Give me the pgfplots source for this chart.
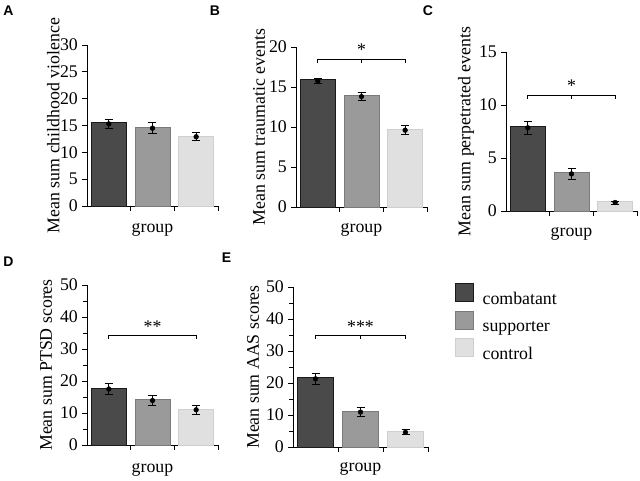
\documentclass[border=0pt]{standalone}
\usepackage{pgfplots}
\pgfplotsset{compat=1.18}
\usepackage{fontspec}
\setmainfont{Liberation Serif}
\newfontfamily\panelfont{Liberation Sans}
\newcommand\fs{\fontsize{17.8bp}{21bp}\selectfont}
\definecolor{cA}{HTML}{4A4A4A}\definecolor{cAd}{HTML}{1A1A1A}
\definecolor{cB}{HTML}{9A9A9A}\definecolor{cBd}{HTML}{7A7A7A}
\definecolor{cC}{HTML}{E0E0E0}\definecolor{cCd}{HTML}{CFCFCF}
\pgfplotsset{
  panel/.style={
    scale only axis, width=131bp, height=160bp,
    axis x line*=bottom, axis y line*=left,
    xmin=-0.5, xmax=2.5, ymin=0,
    xtick={0.5,1.5,2.5}, xticklabels={,,},
    tick align=outside, major tick length=5bp, minor tick length=4bp,
    every tick/.style={black, line width=0.7bp},
    axis line style={line width=0.8bp, black},
    clip=false,
    /pgf/number format/assume math mode=true,
    tick label style={font=\fs},
    yticklabel style={inner sep=1bp, xshift=-3bp},
    label style={font=\fs},
    xlabel={group},
  },
  xl/.style={xlabel style={at={(axis description cs:0.5,0)}, anchor=north, inner sep=0pt, yshift=-#1}},
  bA/.style={ybar, bar width=0.8, bar shift=0pt, fill=cA, draw=cAd, line width=0.8bp},
  bB/.style={ybar, bar width=0.8, bar shift=0pt, fill=cB, draw=cBd, line width=0.8bp},
  bC/.style={ybar, bar width=0.8, bar shift=0pt, fill=cC, draw=cCd, line width=0.8bp},
  eb/.style={black, only marks, mark=*, mark size=2.4bp,
    error bars/.cd, y dir=both, y explicit,
    error bar style={line width=0.8bp, black},
    error mark options={rotate=90, black, line width=0.8bp, mark size=4bp}},
  sq/.style={legend image code/.code={\draw[##1, line width=0.6bp] (0bp,-3bp) rectangle (18bp,15bp);}},
}
\begin{document}
\begin{tikzpicture}
\useasboundingbox (0,0) rectangle (640bp,481bp);
% Panel letters
\node[font=\panelfont\bfseries\fontsize{14bp}{16bp}\selectfont] at (8.5bp,470bp) {A};
\node[font=\panelfont\bfseries\fontsize{14bp}{16bp}\selectfont] at (215bp,470bp) {B};
\node[font=\panelfont\bfseries\fontsize{14bp}{16bp}\selectfont] at (428bp,470bp) {C};
\node[font=\panelfont\bfseries\fontsize{14bp}{16bp}\selectfont] at (8.5bp,219.5bp) {D};
\node[font=\panelfont\bfseries\fontsize{14bp}{16bp}\selectfont] at (226.5bp,223bp) {E};

% A
\begin{axis}[panel, xl=17bp, at={(87bp,275bp)}, anchor=south west, height=161bp,
  ymax=30, ytick={0,5,...,30},
  ylabel={Mean sum childhood violence},
  ylabel style={at={(axis description cs:-0.258,0.5)}, anchor=center}]
\addplot[bA] coordinates {(0,15.5)};
\addplot[bB] coordinates {(1,14.6)};
\addplot[bC] coordinates {(2,13.0)};
\addplot[eb] coordinates {(0,15.3) +- (0,0.9) (1,14.5) +- (0,1.0) (2,12.9) +- (0,0.75)};
\end{axis}

% B
\begin{axis}[panel, xl=16bp, at={(296bp,274bp)}, anchor=south west,
  ymax=20, ytick={0,5,...,20},
  ylabel={Mean sum traumatic events},
  ylabel style={at={(axis description cs:-0.282,0.5)}, anchor=center}]
\addplot[bA] coordinates {(0,15.9)};
\addplot[bB] coordinates {(1,13.9)};
\addplot[bC] coordinates {(2,9.7)};
\addplot[eb] coordinates {(0,15.75) +- (0,0.35) (1,13.8) +- (0,0.5) (2,9.6) +- (0,0.55)};
\draw[line width=0.8bp] (axis cs:0,18.0) -- (axis cs:0,18.5) -- (axis cs:2,18.5) -- (axis cs:2,18.0);
\draw[line width=0.8bp] (axis cs:1,18.5) -- (axis cs:1,18.0);
\node[font=\fs, anchor=base, inner sep=0pt] at (axis cs:1,18.9) {*};
\end{axis}

% C
\begin{axis}[panel, xl=16bp, at={(506bp,270bp)}, anchor=south west, height=159bp,
  ymax=15, ytick={0,5,...,15},
  ylabel={Mean sum perpetrated events},
  ylabel style={at={(axis description cs:-0.305,0.5)}, anchor=center}]
\addplot[bA] coordinates {(0,8.0)};
\addplot[bB] coordinates {(1,3.6)};
\addplot[bC] coordinates {(2,0.9)};
\addplot[eb] coordinates {(0,7.85) +- (0,0.6) (1,3.5) +- (0,0.55) (2,0.8) +- (0,0.15)};
\draw[line width=0.8bp] (axis cs:0,10.55) -- (axis cs:0,10.95) -- (axis cs:2,10.95) -- (axis cs:2,10.55);
\draw[line width=0.8bp] (axis cs:1,10.95) -- (axis cs:1,10.55);
\node[font=\fs, anchor=base, inner sep=0pt] at (axis cs:1,11.3) {*};
\end{axis}

% D
\begin{axis}[panel, xl=18bp, at={(87bp,36bp)}, anchor=south west,
  ymax=50, ytick={0,10,...,50}, minor ytick={5,15,...,45},
  ylabel={Mean sum PTSD scores},
  ylabel style={at={(axis description cs:-0.313,0.5)}, anchor=center}]
\addplot[bA] coordinates {(0,17.7)};
\addplot[bB] coordinates {(1,14.1)};
\addplot[bC] coordinates {(2,11.1)};
\addplot[eb] coordinates {(0,17.5) +- (0,1.6) (1,13.9) +- (0,1.5) (2,11.0) +- (0,1.5)};
\draw[line width=0.8bp] (axis cs:0,33.1) -- (axis cs:0,34.4) -- (axis cs:2,34.4) -- (axis cs:2,33.1);
\node[font=\fs, anchor=base, inner sep=0pt] at (axis cs:1,35.2) {**};
\end{axis}

% E
\begin{axis}[panel, xl=15bp, at={(293bp,34bp)}, anchor=south west, width=135bp,
  ymax=50, ytick={0,10,...,50}, minor ytick={5,15,...,45},
  ylabel={Mean sum AAS scores},
  ylabel style={at={(axis description cs:-0.296,0.5)}, anchor=center},
  legend cell align=left,
  legend style={at={(axis description cs:1.2,1.025)}, anchor=north west,
    draw=none, fill=none, inner sep=0pt, outer sep=0pt, font=\fs,
    nodes={inner sep=0pt, text depth=0pt}, row sep=6.5bp, column sep=9bp}]
\addlegendimage{sq, fill=cA, draw=cAd}\addlegendentry{combatant}
\addlegendimage{sq, fill=cB, draw=cBd}\addlegendentry{supporter}
\addlegendimage{sq, fill=cC, draw=cCd}\addlegendentry{control}
\addplot[forget plot, bA] coordinates {(0,21.8)};
\addplot[forget plot, bB] coordinates {(1,11.0)};
\addplot[forget plot, bC] coordinates {(2,4.8)};
\addplot[forget plot, eb] coordinates {(0,21.3) +- (0,1.8) (1,10.9) +- (0,1.4) (2,4.6) +- (0,0.8)};
\draw[line width=0.8bp] (axis cs:0,33.7) -- (axis cs:0,35) -- (axis cs:2,35) -- (axis cs:2,33.7);
\draw[line width=0.8bp] (axis cs:1,35) -- (axis cs:1,33.7);
\node[font=\fs, anchor=base, inner sep=0pt] at (axis cs:1,35.8) {***};
\end{axis}
\end{tikzpicture}
\end{document}
